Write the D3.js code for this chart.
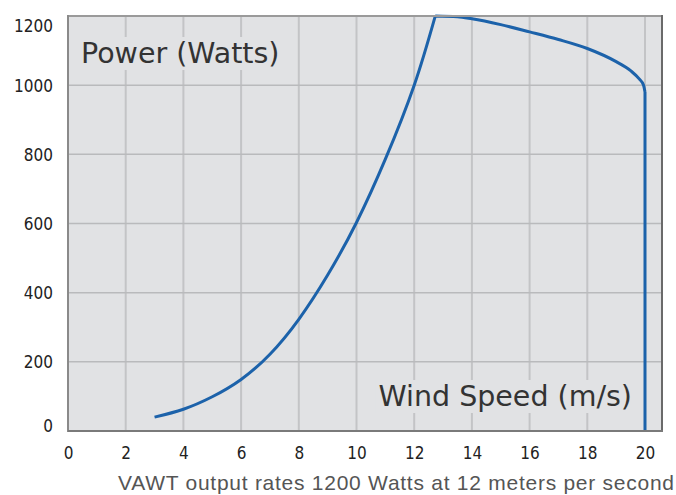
<!DOCTYPE html>
<html><head><meta charset="utf-8">
<script src="https://cdn.jsdelivr.net/npm/d3@7/dist/d3.min.js"></script>
<style>html,body{margin:0;padding:0;background:#fff;}svg{display:block;}</style>
</head><body>
<svg id="chart" width="676" height="495"></svg>
<script>
// ---- data ----
const xTicks = [0, 2, 4, 6, 8, 10, 12, 14, 16, 18, 20];
const yTicks = [0, 200, 400, 600, 800, 1000, 1200];
const riseSpeed = [3, 4, 5, 6, 7, 8, 9, 10, 11, 12, 12.73];
const risePower = [40, 63, 99, 149, 222, 323, 451, 603, 786, 1000, 1200];
const fallSpeed = [12.73, 13.5, 14, 15, 16, 17, 18, 19, 19.5, 19.8, 19.95, 20];
const fallPower = [1200, 1198, 1192, 1175, 1154, 1132, 1106, 1068, 1042, 1018, 1000, 980];
const cutSpeed = [20, 20];
const cutPower = [980, 0];
const yTitle = "Power (Watts)";
const xTitle = "Wind Speed (m/s)";
const caption = "VAWT output rates 1200 Watts at 12 meters per second";

// ---- layout ----
const svg = d3.select("#chart");
const L = 68, R = 662, T = 16, B = 431;
const x = d3.scaleLinear().domain([0, 20]).range([L, 645]);
const y = d3.scaleLinear().domain([0, 1200]).range([B, T]);

svg.append("rect").attr("x", L).attr("y", T).attr("width", R - L).attr("height", B - T)
  .attr("fill", "#e1e2e4");

const g = svg.append("g");
g.selectAll("line.vg").data(xTicks.filter(d => d > 0)).join("line")
  .attr("x1", d => x(d)).attr("x2", d => x(d)).attr("y1", T).attr("y2", B)
  .attr("stroke", "#c3c4c6").attr("stroke-width", 2);
g.selectAll("line.hg").data(yTicks.filter(d => d > 0 && d < 1200)).join("line")
  .attr("x1", L).attr("x2", R).attr("y1", d => y(d)).attr("y2", d => y(d))
  .attr("stroke", "#b9babc").attr("stroke-width", 1.5);

function boxedText(txt, xPos, yBase, anchor) {
  const t = svg.append("text").attr("x", xPos).attr("y", yBase)
    .attr("text-anchor", anchor)
    .attr("font-family", "'DejaVu Sans', Verdana, sans-serif")
    .attr("font-size", 28.5).attr("fill", "#333").text(txt);
  const bb = t.node().getBBox();
  svg.insert("rect", "text").attr("x", bb.x - 3).attr("y", bb.y)
    .attr("width", bb.width + 6).attr("height", bb.height)
    .attr("fill", "#e1e2e4");
  return t;
}
boxedText(yTitle, 81, 63, "start");
boxedText(xTitle, 632, 406, "end");

const line = d3.line().x(d => x(d[0])).y(d => y(d[1]));
const segs = [
  [d3.zip(riseSpeed, risePower), d3.curveNatural],
  [d3.zip(fallSpeed, fallPower), d3.curveMonotoneX],
  [d3.zip(cutSpeed, cutPower), d3.curveLinear]
];
let pathD = "";
segs.forEach(([pts, c]) => { pathD += line.curve(c)(pts); });
svg.append("path").attr("d", pathD)
  .attr("fill", "none").attr("stroke", "#1c62aa").attr("stroke-width", 3)
  .attr("stroke-linejoin", "round");

svg.append("line").attr("x1", L).attr("x2", R).attr("y1", T).attr("y2", T)
  .attr("stroke", "#9a9a9a").attr("stroke-width", 2);
svg.append("line").attr("x1", R).attr("x2", R).attr("y1", T - 1).attr("y2", B)
  .attr("stroke", "#6a6a6a").attr("stroke-width", 2);
svg.append("line").attr("x1", L).attr("x2", L).attr("y1", T - 1).attr("y2", B + 1)
  .attr("stroke", "#8a8a8a").attr("stroke-width", 2);
svg.append("line").attr("x1", L).attr("x2", R + 1).attr("y1", B).attr("y2", B)
  .attr("stroke", "#7a7a7a").attr("stroke-width", 2);

const tickFont = "'DejaVu Sans Condensed', 'DejaVu Sans', Tahoma, sans-serif";
const xAxis = d3.axisBottom(x).tickValues(xTicks).tickSize(0).tickPadding(0).tickFormat(d3.format("d"));
const xa = svg.append("g").attr("transform", `translate(0,${B + 16})`).call(xAxis);
xa.select(".domain").remove();
xa.selectAll("text").attr("font-family", tickFont).attr("font-size", 17).attr("fill", "#222")
  .attr("dy", "0.72em").attr("y", 0);

const yAxis = d3.axisLeft(y).tickValues(yTicks).tickSize(0).tickPadding(0).tickFormat(d3.format("d"));
const ya = svg.append("g").attr("transform", `translate(${53},0)`).call(yAxis);
ya.select(".domain").remove();
ya.selectAll("text").attr("font-family", tickFont).attr("font-size", 17).attr("fill", "#222")
  .attr("dy", d => d === 1200 ? "0.9em" : d === 0 ? "0.0em" : "0.35em");

svg.append("text").attr("x", 118).attr("y", 490)
  .attr("font-family", "'Liberation Sans', Arial, sans-serif")
  .attr("font-size", 21).attr("fill", "#555")
  .attr("textLength", 556).attr("lengthAdjust", "spacing")
  .text(caption);
</script>
</body></html>
